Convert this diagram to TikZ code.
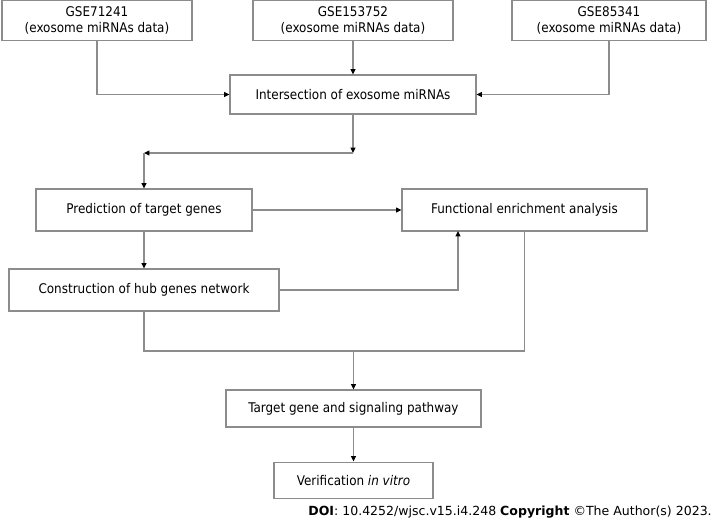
\documentclass[tikz,border=0pt]{standalone}
\usepackage{fontspec}
\setmainfont{DejaVu Sans Condensed}
\newfontfamily\doifont{DejaVu Sans}
\usetikzlibrary{arrows.meta, positioning}
\definecolor{linegray}{RGB}{140,140,140}

\begin{document}
\begin{tikzpicture}[x=0.75pt, y=-0.75pt,
    box/.style={draw=linegray, line width=0.8pt, fill=white, inner sep=2pt, align=center, font=\fontsize{10}{12}\selectfont},
    arrow/.style={-{Triangle[length=4pt, width=3.6pt, color=black]}, draw=linegray, line width=0.8pt},
    link/.style={draw=linegray, line width=0.8pt}
]
    \useasboundingbox (0,0) rectangle (715,522);

    % Data sets (top row)
    \node[box, minimum width=142.5pt, minimum height=30pt] (gse71) at (97,20.5) {GSE71241\\(exosome miRNAs data)};
    \node[box, minimum width=150pt, minimum height=30pt] (gse153) at (353,20.5) {GSE153752\\(exosome miRNAs data)};
    \node[box, minimum width=145.5pt, minimum height=30pt] (gse85) at (609,20.5) {GSE85341\\(exosome miRNAs data)};

    % Intersection
    \node[box, minimum width=184.5pt, minimum height=29.25pt] (inter) at (353,94.5) {Intersection of exosome miRNAs};

    % Prediction and enrichment
    \node[box, minimum width=162pt, minimum height=31.5pt] (pred) at (144,210) {Prediction of target genes};
    \node[box, minimum width=183.75pt, minimum height=31.5pt] (func) at (524.5,210) {Functional enrichment analysis};
    \node[box, minimum width=202.5pt, minimum height=31.5pt] (constr) at (144,290) {Construction of hub genes network};

    % Target and verification
    \node[box, minimum width=191.25pt, minimum height=27.75pt] (target) at (353.5,408.5) {Target gene and signaling pathway};
    \node[box, minimum width=119.25pt, minimum height=27pt, below=25.5pt of target] (verif) {Verification \textit{in vitro}};

    % Source line
    \node[anchor=base east, inner sep=0pt, font=\doifont\fontsize{9.4}{11}\selectfont] (doi) at (712,515)
        {\textbf{DOI}: 10.4252/wjsc.v15.i4.248 \textbf{Copyright} \textcopyright The Author(s) 2023.};

    % Joints
    \coordinate (j1) at (353,153);
    \coordinate (j2) at (144,153);
    \coordinate (fin) at (458,231);
    \coordinate (merge) at (353.5,351);

    % Data sets to intersection
    \draw[arrow] (gse71.south) |- (inter.west);
    \draw[arrow] (gse153.south) -- (inter.north);
    \draw[arrow] (gse85.south) |- (inter.east);

    % Intersection to prediction
    \draw[arrow] (inter.south) -- (j1);
    \draw[arrow] (j1) -- (j2);
    \draw[arrow] (j2) -- (pred.north);

    % Prediction, network, enrichment
    \draw[arrow] (pred.east) -- (func.west);
    \draw[arrow] (pred.south) -- (constr.north);
    \draw[arrow] (constr.east) -| (fin);

    % Merge to target
    \draw[link] (constr.south) |- (merge);
    \draw[link] (func.south) |- (merge);
    \draw[arrow] (merge) -- (target.north);
    \draw[arrow] (target.south) -- (verif.north);

\end{tikzpicture}
\end{document}
